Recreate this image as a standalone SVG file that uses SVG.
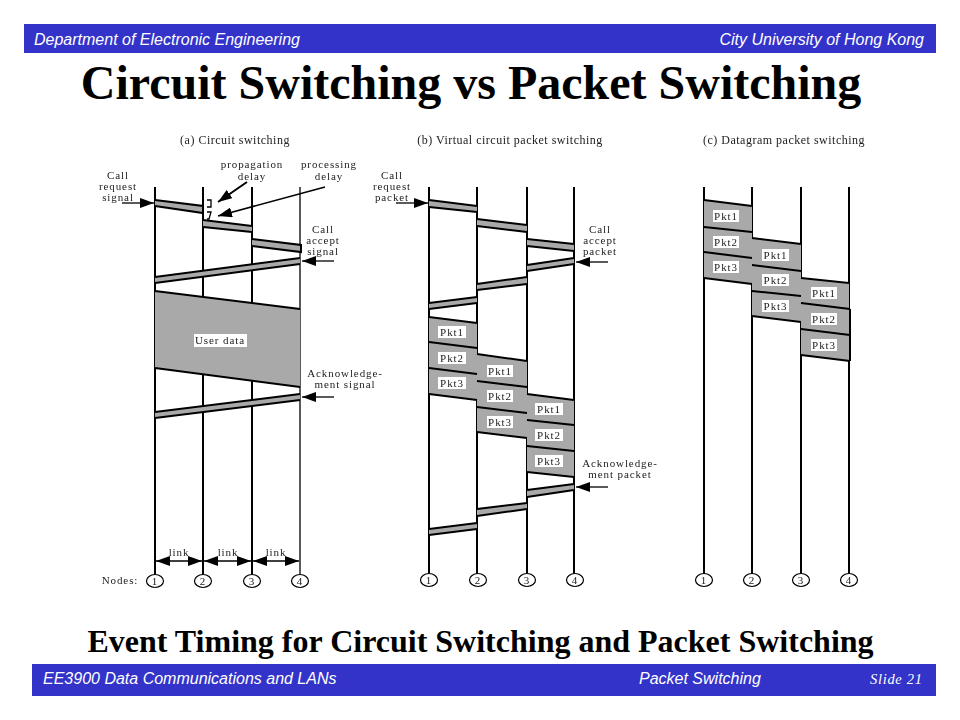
<svg xmlns="http://www.w3.org/2000/svg" width="960" height="720" viewBox="0 0 960 720">
<defs>
<marker id="ah" viewBox="0 0 14 10" refX="14" refY="5" markerWidth="14" markerHeight="10" markerUnits="userSpaceOnUse" orient="auto-start-reverse"><path d="M0 0L14 5L0 10Z" fill="#000"/></marker>
<filter id="soft" x="-5%" y="-5%" width="110%" height="110%"><feGaussianBlur stdDeviation="0.45"/></filter>
</defs>
<style>
.band{fill:#3333c9}
.hd{font:italic 16px "Liberation Sans",Arial,sans-serif;fill:#fff}
.ser{font-family:"Liberation Serif","Times New Roman",serif;fill:#000}
.t{font-size:11px;fill:#222;text-anchor:middle;letter-spacing:.9px}
.ti{font-size:12px;fill:#222;text-anchor:middle;letter-spacing:.5px}
.ln{stroke:#000;stroke-width:2;fill:none}
.thin{stroke:#000;stroke-width:1.3;fill:none}
.bar{fill:#a9a9a9;stroke:none}
.edge{stroke:#000;stroke-width:2;fill:none}
.lab{fill:#fff}
.nd{fill:#fff;stroke:#000;stroke-width:1.2}
.ar{stroke:#000;stroke-width:1.3;fill:none;marker-end:url(#ah)}
.ar2{stroke:#000;stroke-width:1.3;fill:none;marker-end:url(#ah);marker-start:url(#ah)}
</style>
<rect width="960" height="720" fill="#fff"/>
<g id="header">
<rect class="band" x="24" y="24" width="912" height="29"/>
<text class="hd" x="34" y="45">Department of Electronic Engineering</text>
<text class="hd" x="924" y="45" text-anchor="end">City University of Hong Kong</text>
</g>
<text id="title" class="ser" x="471" y="99" font-size="48" font-weight="bold" text-anchor="middle">Circuit Switching vs Packet Switching</text>
<g id="diagram" filter="url(#soft)">
<g id="panel-a">
<text class="ti ser" x="235" y="144">(a) Circuit switching</text>
<g id="connectors-a">
<path class="ln" d="M155 187V575M203 187V575M252 187V575"/>
<path class="thin" d="M300 187V575"/>
<path class="bar" d="M155 200L203 206V213L155 206ZM203 220L252 226V232L203 227ZM252 239L300 245V252L252 246ZM155 277L300 258V264L155 283ZM155 291L300 309V387L155 368ZM155 412L300 394V400L155 418Z"/>
<path class="edge" d="M155 200L203 206V213L155 206M203 220L252 226M203 227L252 232M252 239L301 245V252L252 246M155 277L300 258M155 283L300 264M155 291L300 309M155 368L300 387M155 412L300 394M155 418L300 400"/>
<path class="thin" d="M207 200H211V207H207M207 212H211L209 219H207"/>
<path class="ar" d="M122 203H154"/>
<path class="ar" d="M334 261H302"/>
<path class="ar" d="M334 397H302"/>
<path class="ar" style="stroke-width:2" d="M247 182L218 202"/>
<path class="ar" style="stroke-width:1.6" d="M325 187L218 216"/>
<path class="ar2" d="M156 561H202"/>
<path class="ar2" d="M204 561H251"/>
<path class="ar2" d="M253 561H299"/>
</g>
<rect class="lab" x="194" y="334" width="53" height="13"/>
<text class="t ser" x="220" y="344">User data</text>
<text class="t ser" x="118" y="179">Call</text><text class="t ser" x="118" y="190">request</text><text class="t ser" x="118" y="201">signal</text>
<text class="t ser" x="252" y="168">propagation</text><text class="t ser" x="252" y="180">delay</text>
<text class="t ser" x="329" y="168">processing</text><text class="t ser" x="329" y="180">delay</text>
<text class="t ser" x="323" y="233">Call</text><text class="t ser" x="323" y="244">accept</text><text class="t ser" x="323" y="255">signal</text>
<text class="t ser" x="345" y="377">Acknowledge-</text><text class="t ser" x="345" y="388">ment signal</text>
<text class="t ser" x="179" y="556">link</text>
<text class="t ser" x="228" y="556">link</text>
<text class="t ser" x="276" y="556">link</text>
<text class="t ser" x="120" y="584">Nodes:</text>
</g>
<g id="nodes-a">
<g id="a1"><ellipse class="nd" cx="155" cy="581" rx="8.5" ry="6.5"/><text class="t ser" x="155" y="585">1</text></g>
<g id="a2"><ellipse class="nd" cx="203" cy="581" rx="8.5" ry="6.5"/><text class="t ser" x="203" y="585">2</text></g>
<g id="a3"><ellipse class="nd" cx="252" cy="581" rx="8.5" ry="6.5"/><text class="t ser" x="252" y="585">3</text></g>
<g id="a4"><ellipse class="nd" cx="300" cy="581" rx="8.5" ry="6.5"/><text class="t ser" x="300" y="585">4</text></g>
</g>
<g id="panel-b">
<text class="ti ser" x="510" y="144">(b) Virtual circuit packet switching</text>
<g id="connectors-b">
<path class="ln" d="M429 187V575M477 187V575M527 187V575M574 187V575"/>
<path class="bar" d="M429 200L477 206V212L429 207ZM477 219L527 225V232L477 226ZM527 239L574 244V251L527 246ZM527 265L574 258V264L527 271ZM477 284L527 277V284L477 290ZM429 303L477 297V303L429 309ZM429 317L477 323V400L429 394ZM477 354L527 361V438L477 432ZM527 394L574 400V477L527 472ZM527 490L574 484V490L527 497ZM477 509L527 503V509L477 516ZM429 529L477 523V529L429 535Z"/>
<path class="edge" d="M429 200L477 206M429 207L477 212M477 219L527 225M477 226L527 232M527 239L574 244M527 246L574 251M527 265L574 258M527 271L574 264M477 284L527 277M477 290L527 284M429 303L477 297M429 309L477 303M429 317L477 323M429 342L477 348M429 368L477 374M429 394L477 400M477 354L527 361M477 381L527 387M477 407L527 413M477 432L527 438M527 394L574 400M527 420L574 425M527 446L574 451M527 472L574 477M527 490L574 484M527 497L574 490M477 509L527 503M477 516L527 509M429 529L477 523M429 535L477 529"/>
<path class="ar" d="M396 203H428"/>
<path class="ar" d="M608 262H576"/>
<path class="ar" d="M608 487H576"/>
</g>
<g id="pkt-b">
<rect class="lab" x="438" y="326" width="28" height="12"/><text class="t ser" x="452" y="336">Pkt1</text>
<rect class="lab" x="438" y="352" width="28" height="12"/><text class="t ser" x="452" y="362">Pkt2</text>
<rect class="lab" x="438" y="377" width="28" height="12"/><text class="t ser" x="452" y="387">Pkt3</text>
<rect class="lab" x="487" y="365" width="26" height="12"/><text class="t ser" x="500" y="375">Pkt1</text>
<rect class="lab" x="487" y="390" width="26" height="12"/><text class="t ser" x="500" y="400">Pkt2</text>
<rect class="lab" x="487" y="416" width="26" height="12"/><text class="t ser" x="500" y="426">Pkt3</text>
<rect class="lab" x="535" y="403" width="28" height="12"/><text class="t ser" x="549" y="413">Pkt1</text>
<rect class="lab" x="535" y="429" width="28" height="12"/><text class="t ser" x="549" y="439">Pkt2</text>
<rect class="lab" x="535" y="455" width="28" height="12"/><text class="t ser" x="549" y="465">Pkt3</text>
</g>
<text class="t ser" x="392" y="179">Call</text><text class="t ser" x="392" y="190">request</text><text class="t ser" x="392" y="201">packet</text>
<text class="t ser" x="600" y="233">Call</text><text class="t ser" x="600" y="244">accept</text><text class="t ser" x="600" y="255">packet</text>
<text class="t ser" x="620" y="467">Acknowledge-</text><text class="t ser" x="620" y="478">ment packet</text>
</g>
<g id="nodes-b">
<g id="b1"><ellipse class="nd" cx="429" cy="580" rx="8.5" ry="6.5"/><text class="t ser" x="429" y="584">1</text></g>
<g id="b2"><ellipse class="nd" cx="478" cy="580" rx="8.5" ry="6.5"/><text class="t ser" x="478" y="584">2</text></g>
<g id="b3"><ellipse class="nd" cx="527" cy="580" rx="8.5" ry="6.5"/><text class="t ser" x="527" y="584">3</text></g>
<g id="b4"><ellipse class="nd" cx="575" cy="580" rx="8.5" ry="6.5"/><text class="t ser" x="575" y="584">4</text></g>
</g>
<g id="panel-c">
<text class="ti ser" x="784" y="144">(c) Datagram packet switching</text>
<g id="connectors-c">
<path class="ln" d="M704 187V575M752 187V575M801 187V575M849 187V309"/>
<path class="ln" d="M850 309V361M849 361V575"/>
<path class="bar" d="M704 200L752 206V284L704 278ZM752 238L801 244V322L752 316ZM801 278L849 283V361L801 355Z"/>
<path class="edge" d="M704 200L752 206M704 227L752 232M704 252L752 258M704 278L752 284M752 238L801 244M752 265L801 271M752 291L801 296M752 316L801 322M801 278L849 283M801 303L850 309M801 329L850 335M801 355L850 361"/>
</g>
<g id="pkt-c">
<rect class="lab" x="713" y="210" width="26" height="12"/><text class="t ser" x="726" y="220">Pkt1</text>
<rect class="lab" x="713" y="236" width="26" height="12"/><text class="t ser" x="726" y="246">Pkt2</text>
<rect class="lab" x="713" y="261" width="26" height="12"/><text class="t ser" x="726" y="271">Pkt3</text>
<rect class="lab" x="762" y="249" width="27" height="12"/><text class="t ser" x="775.5" y="259">Pkt1</text>
<rect class="lab" x="762" y="274" width="27" height="12"/><text class="t ser" x="775.5" y="284">Pkt2</text>
<rect class="lab" x="762" y="300" width="27" height="12"/><text class="t ser" x="775.5" y="310">Pkt3</text>
<rect class="lab" x="811" y="287" width="26" height="12"/><text class="t ser" x="824" y="297">Pkt1</text>
<rect class="lab" x="811" y="313" width="26" height="12"/><text class="t ser" x="824" y="323">Pkt2</text>
<rect class="lab" x="811" y="339" width="26" height="12"/><text class="t ser" x="824" y="349">Pkt3</text>
</g>
</g>
<g id="nodes-c">
<g id="c1"><ellipse class="nd" cx="704" cy="580" rx="8.5" ry="6.5"/><text class="t ser" x="704" y="584">1</text></g>
<g id="c2"><ellipse class="nd" cx="752" cy="580" rx="8.5" ry="6.5"/><text class="t ser" x="752" y="584">2</text></g>
<g id="c3"><ellipse class="nd" cx="801" cy="580" rx="8.5" ry="6.5"/><text class="t ser" x="801" y="584">3</text></g>
<g id="c4"><ellipse class="nd" cx="849" cy="580" rx="8.5" ry="6.5"/><text class="t ser" x="849" y="584">4</text></g>
</g>
</g>
<text id="caption" class="ser" x="480.5" y="652" font-size="32" font-weight="bold" text-anchor="middle">Event Timing for Circuit Switching and Packet Switching</text>
<g id="footer">
<rect class="band" x="32" y="664" width="904" height="32"/>
<text class="hd" x="43" y="684">EE3900 Data Communications and LANs</text>
<text class="hd" x="639" y="684">Packet Switching</text>
<text class="ser" x="870" y="684" font-size="14.5" font-style="italic" letter-spacing=".7" style="fill:#fff">Slide 21</text>
</g>
</svg>
